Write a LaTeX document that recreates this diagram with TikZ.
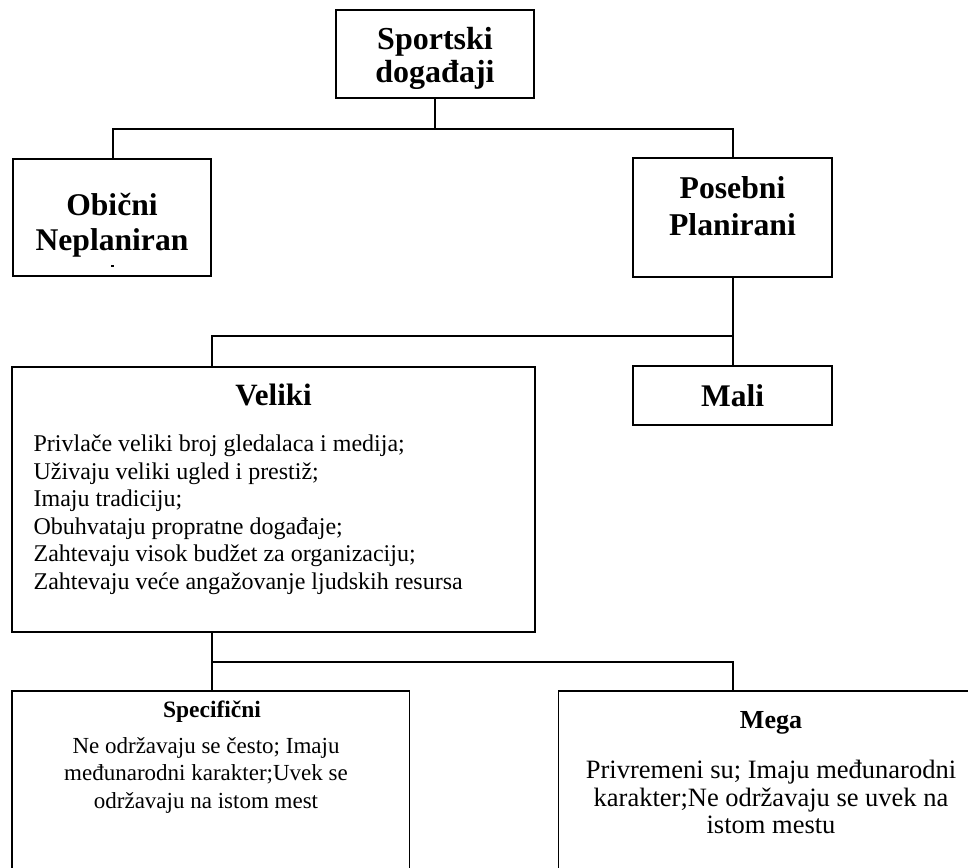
\documentclass[tikz,border=0pt]{standalone}
\usepackage{fontspec}
\setmainfont{Liberation Serif}
\tikzset{
  boxst/.style={draw, line width=1.5pt, rectangle, inner sep=0pt, outer sep=0pt, anchor=north west},
  conn/.style={line width=1.3pt},
  lbl/.style={anchor=base, inner sep=0pt},
  lblw/.style={anchor=base west, inner sep=0pt},
}
\newcommand{\fsz}[1]{\fontsize{#1}{#1}\selectfont}
\begin{document}
\begin{tikzpicture}[x=1pt,y=-1pt]
\useasboundingbox (0,0) rectangle (968,867);
\clip (0,0) rectangle (968,867);
\fill[white] (0,0) rectangle (968,867);
% boxes
\node[boxst, minimum width=198pt, minimum height=88pt] (top) at (336,10) {};
\node[boxst, minimum width=198pt, minimum height=117pt] (obi) at (13,159) {};
\node[boxst, minimum width=199pt, minimum height=119pt] (pos) at (633,158) {};
\node[boxst, minimum width=199pt, minimum height=59pt] (mali) at (633,366) {};
\node[boxst, minimum width=523pt, minimum height=265pt] (vel) at (12,367) {};
\node[boxst, minimum width=397.5pt, minimum height=250pt] (spec) at (12,691) {};
\node[boxst, minimum width=425pt, minimum height=250pt] (mega) at (558.5,691) {};
% helper coordinates
\coordinate (x113) at (113,0);
\coordinate (x212) at (212,0);
\coordinate (x733) at (733,0);
\coordinate (j1) at (435,129);
\coordinate (j2) at (733,336);
\coordinate (j3) at (212,662);
% connectors
\draw[conn] (top.south -| j1) -- (j1);
\draw[conn] (obi.north -| x113) |- (j1) -| (pos.north -| x733);
\draw[conn] (pos.south -| x733) -- (mali.north -| x733);
\draw[conn] (j2) -| (vel.north -| x212);
\draw[conn] (vel.south -| x212) -- (spec.north -| x212);
\draw[conn] (j3) -| (mega.north -| x733);
% texts: top
\node[lbl, font=\fsz{32}\bfseries] (t1) at (435,50) {Sportski};
\begin{scope}
  \clip (337,10) rectangle (533,88);
  \node[lbl, font=\fsz{32}\bfseries] (t2) at (435,82) {događaji};
\end{scope}
% Obični
\node[lbl, font=\fsz{31.6}\bfseries] (o1) at (112,215) {Obični};
\node[lbl, font=\fsz{31.6}\bfseries] (o2) at (112,250) {Neplaniran};
\fill (111,264.5) rectangle (114,266.5);
% Posebni
\node[lbl, font=\fsz{31.7}\bfseries] (p1) at (732.5,198) {Posebni};
\node[lbl, font=\fsz{31.7}\bfseries] (p2) at (732.5,235) {Planirani};
% Mali
\node[lbl, font=\fsz{31.5}\bfseries] (m1) at (732.5,406) {Mali};
% Veliki
\node[lbl, font=\fsz{31}\bfseries] (v0) at (273.5,405) {Veliki};
\node[lblw, font=\fsz{24}] (v1) at (33.4,451.7) {Privlače veliki broj gledalaca i medija;};
\node[lblw, font=\fsz{24}] (v2) at (33.4,479.2) {Uživaju veliki ugled i prestiž;};
\node[lblw, font=\fsz{24}] (v3) at (33.4,506.6) {Imaju tradiciju;};
\node[lblw, font=\fsz{24}] (v4) at (33.4,534.0) {Obuhvataju propratne događaje;};
\node[lblw, font=\fsz{24}] (v5) at (33.4,561.5) {Zahtevaju visok budžet za organizaciju;};
\node[lblw, font=\fsz{24}] (v6) at (33.4,589.0) {Zahtevaju veće angažovanje ljudskih resursa};
% Specifični
\node[lbl, font=\fsz{23.5}\bfseries] (s0) at (212,717) {Specifični};
\node[lbl, font=\fsz{23}] (s1) at (206,753) {Ne održavaju se često; Imaju};
\node[lbl, font=\fsz{23}] (s2) at (206,780.5) {međunarodni karakter;Uvek se};
\node[lbl, font=\fsz{23}] (s3) at (206,808) {održavaju na istom mest};
% Mega
\node[lbl, font=\fsz{26}\bfseries] (g0) at (771,728) {Mega};
\node[lbl, font=\fsz{26.5}] (g1) at (771,778) {Privremeni su; Imaju međunarodni};
\node[lbl, font=\fsz{26.5}] (g2) at (771,806) {karakter;Ne održavaju se uvek na};
\node[lbl, font=\fsz{26.5}] (g3) at (771,833) {istom mestu};
\end{tikzpicture}
\end{document}
